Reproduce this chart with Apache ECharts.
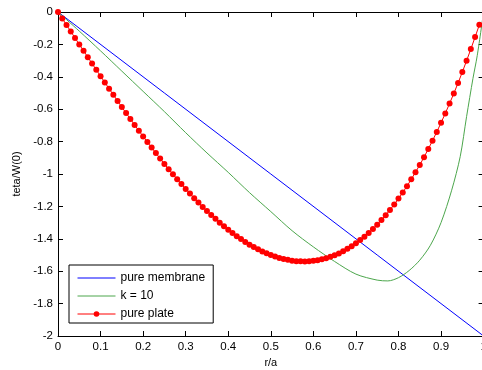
<!DOCTYPE html>
<html>
<head>
<meta charset="utf-8">
<script src="https://cdn.jsdelivr.net/npm/echarts@6/dist/echarts.min.js"></script>
<style>
html,body{margin:0;padding:0;background:#fff;}
#chart{width:482px;height:370px;}
</style>
</head>
<body>
<div id="chart"></div>
<script>
const seriesNames = ['pure membrane', 'k = 10', 'pure plate'];
const xTicks = [0, 0.1, 0.2, 0.3, 0.4, 0.5, 0.6, 0.7, 0.8, 0.9, 1];
const yTicks = [0, -0.2, -0.4, -0.6, -0.8, -1, -1.2, -1.4, -1.6, -1.8, -2];

const membrane = [[0,0],[0.25,-0.5],[0.5,-1.0],[0.75,-1.5],[1,-2]];

const kTen = [
  [0,0],[0.05,-0.118],[0.1,-0.240],[0.15,-0.365],[0.2,-0.490],[0.25,-0.615],
  [0.3,-0.745],[0.35,-0.870],[0.4,-0.990],[0.45,-1.115],[0.5,-1.232],
  [0.55,-1.350],[0.6,-1.450],[0.65,-1.540],[0.7,-1.618],[0.75,-1.655],
  [0.775,-1.660],[0.8,-1.640],[0.825,-1.596],[0.85,-1.532],[0.875,-1.440],
  [0.9,-1.300],[0.925,-1.100],[0.945,-0.893],[0.96,-0.646],[0.975,-0.410],
  [0.985,-0.270],[1,0]
];

const plate = [
  [0,0],[0.01,-0.040],[0.02,-0.080],[0.03,-0.120],[0.04,-0.160],[0.05,-0.200],
  [0.06,-0.239],[0.07,-0.279],[0.08,-0.318],[0.09,-0.357],[0.10,-0.396],
  [0.11,-0.435],[0.12,-0.473],[0.13,-0.511],[0.14,-0.549],[0.15,-0.587],
  [0.16,-0.624],[0.17,-0.660],[0.18,-0.697],[0.19,-0.733],[0.20,-0.768],
  [0.21,-0.803],[0.22,-0.837],[0.23,-0.871],[0.24,-0.905],[0.25,-0.938],
  [0.26,-0.970],[0.27,-1.001],[0.28,-1.032],[0.29,-1.062],[0.30,-1.092],
  [0.31,-1.121],[0.32,-1.149],[0.33,-1.176],[0.34,-1.203],[0.35,-1.229],
  [0.36,-1.253],[0.37,-1.277],[0.38,-1.301],[0.39,-1.323],[0.40,-1.344],
  [0.41,-1.364],[0.42,-1.384],[0.43,-1.402],[0.44,-1.419],[0.45,-1.436],
  [0.46,-1.451],[0.47,-1.465],[0.48,-1.478],[0.49,-1.489],[0.50,-1.500],
  [0.51,-1.509],[0.52,-1.518],[0.53,-1.524],[0.54,-1.530],[0.55,-1.535],
  [0.56,-1.538],[0.57,-1.539],[0.58,-1.540],[0.59,-1.538],[0.60,-1.536],
  [0.61,-1.532],[0.62,-1.527],[0.63,-1.520],[0.64,-1.511],[0.65,-1.502],
  [0.66,-1.490],[0.67,-1.477],[0.68,-1.462],[0.69,-1.446],[0.70,-1.428],
  [0.71,-1.408],[0.72,-1.387],[0.73,-1.364],[0.74,-1.339],[0.75,-1.313],
  [0.76,-1.284],[0.77,-1.254],[0.78,-1.222],[0.79,-1.188],[0.80,-1.152],
  [0.81,-1.114],[0.82,-1.075],[0.83,-1.033],[0.84,-0.989],[0.85,-0.944],
  [0.86,-0.896],[0.87,-0.846],[0.88,-0.794],[0.89,-0.740],[0.90,-0.684],
  [0.91,-0.626],[0.92,-0.565],[0.93,-0.503],[0.94,-0.438],[0.95,-0.371],
  [0.96,-0.301],[0.97,-0.229],[0.98,-0.155],[0.99,-0.079]
];

const FONT = '"Liberation Sans", Arial, sans-serif';
const BLUE = '#0000ff', GREEN = '#4ca64c', RED = '#ff0000';
const chart = echarts.init(document.getElementById('chart'), null, {renderer: 'canvas'});

const xStep = xTicks[1] - xTicks[0];
const yStep = Math.abs(yTicks[1] - yTicks[0]);
const axisLineStyle = {color: '#000', width: 1};

function fmt(v) { return String(Math.round(v * 10) / 10); }

chart.setOption({
  animation: false,
  backgroundColor: '#fff',
  grid: {left: 58, top: 12, width: 425.6, height: 324, containLabel: false, outerBoundsMode: 'none'},
  xAxis: [{
    type: 'value', position: 'bottom',
    min: xTicks[0], max: xTicks[xTicks.length - 1], interval: xStep,
    name: 'r/a', nameLocation: 'middle', nameGap: 20,
    nameTextStyle: {fontFamily: FONT, fontSize: 11, color: '#000'},
    axisLine: {show: true, onZero: false, lineStyle: axisLineStyle},
    axisTick: {show: true, inside: true, length: 5, lineStyle: axisLineStyle},
    axisLabel: {show: true, margin: 5, fontFamily: FONT, fontSize: 11.5, color: '#000', formatter: fmt, hideOverlap: false},
    splitLine: {show: false}
  }, {
    type: 'value', position: 'top',
    min: xTicks[0], max: xTicks[xTicks.length - 1], interval: xStep,
    axisLine: {show: true, onZero: false, lineStyle: axisLineStyle},
    axisTick: {show: true, inside: true, length: 5, lineStyle: axisLineStyle},
    axisLabel: {show: false},
    splitLine: {show: false}
  }],
  yAxis: [{
    type: 'value', position: 'left',
    min: yTicks[yTicks.length - 1], max: yTicks[0], interval: yStep,
    name: 'teta/W(0)', nameLocation: 'middle', nameGap: 29.5, nameRotate: 90,
    nameTextStyle: {fontFamily: FONT, fontSize: 11, color: '#000'},
    axisLine: {show: true, onZero: false, lineStyle: axisLineStyle},
    axisTick: {show: true, inside: true, length: 5, lineStyle: axisLineStyle},
    axisLabel: {show: true, margin: 5, fontFamily: FONT, fontSize: 11.5, color: '#000', formatter: fmt},
    splitLine: {show: false}
  }, {
    type: 'value', position: 'right',
    min: yTicks[yTicks.length - 1], max: yTicks[0], interval: yStep,
    axisLine: {show: true, onZero: false, lineStyle: axisLineStyle},
    axisTick: {show: true, inside: true, length: 5, lineStyle: axisLineStyle},
    axisLabel: {show: false},
    splitLine: {show: false}
  }],
  legend: {
    orient: 'vertical', left: 69, top: 265,
    backgroundColor: '#fff', borderColor: '#000', borderWidth: 1,
    padding: [7, 8, 3, 8], itemWidth: 38, itemHeight: 7, itemGap: 6,
    lineStyle: {width: 1},
    textStyle: {fontFamily: FONT, fontSize: 12, color: '#000'},
    data: [
      {name: seriesNames[0], itemStyle: {opacity: 0}},
      {name: seriesNames[1], itemStyle: {opacity: 0}},
      {name: seriesNames[2]}
    ]
  },
  series: [{
    name: seriesNames[0], type: 'line', data: membrane,
    symbol: 'none', lineStyle: {color: BLUE, width: 1}, itemStyle: {color: BLUE},
    z: 2
  }, {
    name: seriesNames[1], type: 'line', data: kTen, smooth: 0.3,
    symbol: 'none', lineStyle: {color: GREEN, width: 1}, itemStyle: {color: GREEN},
    z: 3
  }, {
    name: seriesNames[2], type: 'line', data: plate,
    symbol: 'circle', symbolSize: 6, showSymbol: true,
    lineStyle: {color: RED, width: 1}, itemStyle: {color: RED},
    z: 4
  }]
});
</script>
</body>
</html>
